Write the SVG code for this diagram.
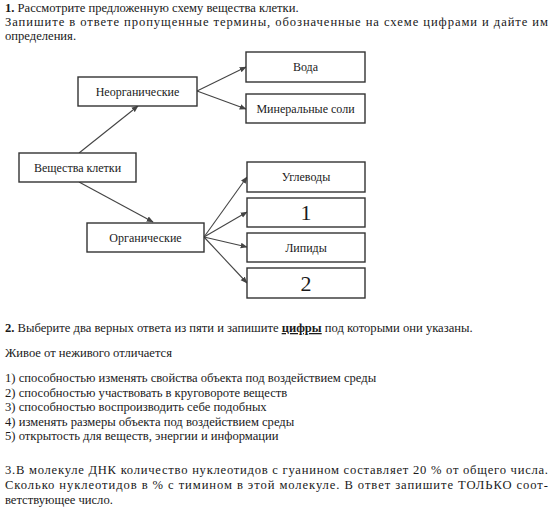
<svg xmlns="http://www.w3.org/2000/svg" width="553" height="520" viewBox="0 0 553 520">
<style>
text{font-family:'Times New Roman','Liberation Serif',serif;fill:#1a1a1a}
.t{font-size:12.6px}
.b{font-weight:bold}
.n rect{fill:#fff;stroke:#333;stroke-width:1.4}
.n text{font-size:12px;text-anchor:middle}
.n text.big{font-size:22px}
.c line{stroke:#444;stroke-width:1.1;marker-end:url(#ah)}
</style>
<defs>
<marker id="ah" viewBox="0 0 10 10" refX="9" refY="5" markerWidth="7" markerHeight="7" orient="auto" markerUnits="userSpaceOnUse">
<path d="M0,1 L10,5 L0,9 z" fill="#444"/>
</marker>
</defs>
<rect width="553" height="520" fill="#fff"/>
<text class="t" font-family="Times New Roman" x="5" y="12"><tspan class="b">1.</tspan> Рассмотрите предложенную схему вещества клетки.</text>
<text class="t" font-family="Times New Roman" x="5" y="26" textLength="543" lengthAdjust="spacing">Запишите в ответе пропущенные термины, обозначенные на схеме цифрами и дайте им</text>
<text class="t" font-family="Times New Roman" x="5" y="40">определения.</text>

<g class="c">
<line x1="79" y1="153" x2="138" y2="106"/>
<line x1="79" y1="182" x2="153" y2="222"/>
<line x1="197" y1="91" x2="246" y2="67"/>
<line x1="197" y1="91" x2="246" y2="109"/>
<line x1="204" y1="237" x2="247" y2="177"/>
<line x1="204" y1="237" x2="247" y2="212"/>
<line x1="204" y1="237" x2="247" y2="247"/>
<line x1="204" y1="237" x2="247" y2="283"/>
</g>

<g class="n" id="n-veshchestva"><rect x="19" y="153" width="117" height="29"/><text font-family="Times New Roman" x="77.5" y="171.5">Вещества  клетки</text></g>
<g class="n" id="n-neorg"><rect x="78" y="77" width="119" height="29"/><text font-family="Times New Roman" x="137.5" y="95.5">Неорганические</text></g>
<g class="n" id="n-org"><rect x="87" y="223" width="117" height="29"/><text font-family="Times New Roman" x="145.5" y="241.5">Органические</text></g>
<g class="n" id="n-voda"><rect x="246" y="52" width="119" height="30"/><text font-family="Times New Roman" x="305.5" y="71">Вода</text></g>
<g class="n" id="n-soli"><rect x="246" y="94" width="119" height="29"/><text font-family="Times New Roman" x="305.5" y="112.5">Минеральные соли</text></g>
<g class="n" id="n-uglevody"><rect x="247" y="162" width="118" height="30"/><text font-family="Times New Roman" x="306" y="181">Углеводы</text></g>
<g class="n" id="n-1"><rect x="247" y="198" width="118" height="29"/><text class="big" font-family="Times New Roman" x="306" y="220">1</text></g>
<g class="n" id="n-lipidy"><rect x="247" y="233" width="118" height="29"/><text font-family="Times New Roman" x="306" y="251.5">Липиды</text></g>
<g class="n" id="n-2"><rect x="247" y="268" width="118" height="30"/><text class="big" font-family="Times New Roman" x="306" y="291">2</text></g>

<text class="t" font-family="Times New Roman" x="5" y="332"><tspan class="b">2.</tspan> Выберите два верных ответа из пяти и запишите <tspan class="b" text-decoration="underline">цифры</tspan> под которыми они указаны.</text>
<text class="t" font-family="Times New Roman" x="5" y="357">Живое от неживого отличается</text>
<text class="t" font-family="Times New Roman" x="5" y="382">1) способностью изменять свойства объекта под воздействием среды</text>
<text class="t" font-family="Times New Roman" x="5" y="396.5">2) способностью участвовать в круговороте веществ</text>
<text class="t" font-family="Times New Roman" x="5" y="411">3) способностью воспроизводить себе подобных</text>
<text class="t" font-family="Times New Roman" x="5" y="425.5">4) изменять размеры объекта под воздействием среды</text>
<text class="t" font-family="Times New Roman" x="5" y="440">5) открытость для веществ, энергии и информации</text>
<text class="t" font-family="Times New Roman" x="5" y="474" textLength="543" lengthAdjust="spacing">3.В молекуле ДНК количество нуклеотидов с гуанином составляет 20 % от общего числа.</text>
<text class="t" font-family="Times New Roman" x="5" y="489" textLength="543" lengthAdjust="spacing">Сколько нуклеотидов в % с тимином в этой молекуле. В ответ запишите ТОЛЬКО соот-</text>
<text class="t" font-family="Times New Roman" x="5" y="504">ветствующее число.</text>
</svg>
